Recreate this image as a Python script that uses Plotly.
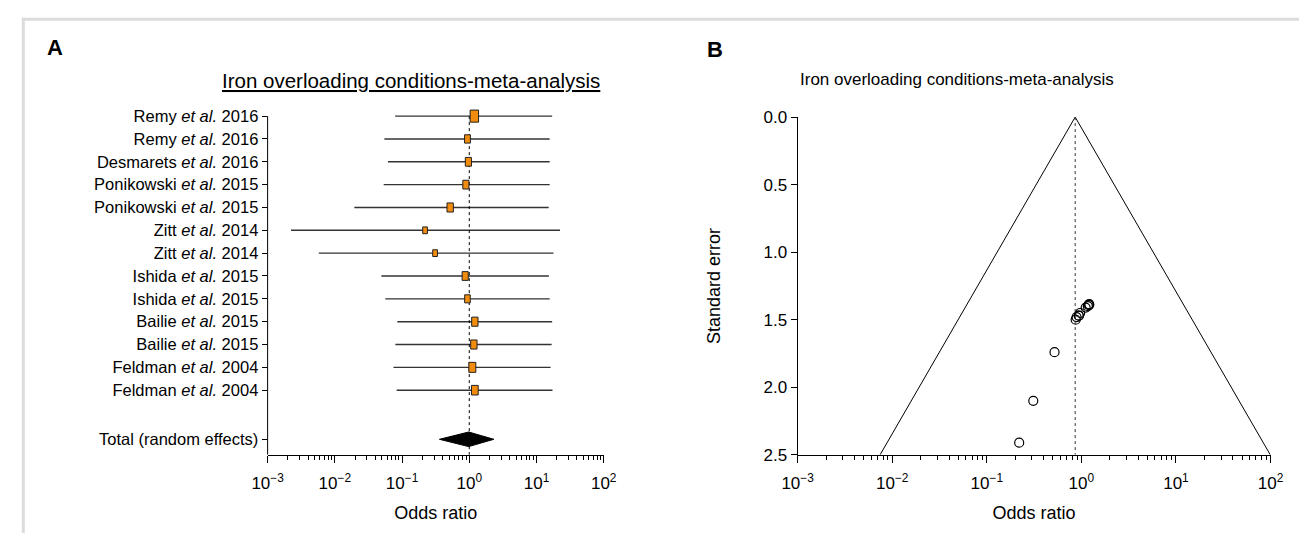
import math
import plotly.graph_objects as go

# ---------------- data ----------------
studies = [
    "Remy <i>et al.</i> 2016", "Remy <i>et al.</i> 2016", "Desmarets <i>et al.</i> 2016",
    "Ponikowski <i>et al.</i> 2015", "Ponikowski <i>et al.</i> 2015",
    "Zitt <i>et al.</i> 2014", "Zitt <i>et al.</i> 2014",
    "Ishida <i>et al.</i> 2015", "Ishida <i>et al.</i> 2015",
    "Bailie <i>et al.</i> 2015", "Bailie <i>et al.</i> 2015",
    "Feldman <i>et al.</i> 2004", "Feldman <i>et al.</i> 2004",
]
odds_ratio = [1.19, 0.94, 0.97, 0.89, 0.52, 0.22, 0.31, 0.87, 0.94, 1.21, 1.17, 1.11, 1.21]
ci_low = [0.079, 0.0546, 0.0617, 0.0533, 0.0195, 0.00223, 0.00578, 0.0493, 0.0564, 0.085, 0.0796, 0.0745, 0.083]
ci_high = [17.1, 15.7, 15.7, 15.7, 15.2, 22.4, 17.9, 15.3, 15.7, 17.1, 16.8, 16.2, 17.3]
weights = [9.5, 4.5, 5.0, 5.0, 5.4, 3.0, 3.0, 5.0, 4.2, 5.4, 5.4, 6.5, 6.0]
std_error = [1.39, 1.47, 1.45, 1.48, 1.74, 2.41, 2.10, 1.50, 1.47, 1.385, 1.40, 1.41, 1.39]

total_label = "Total (random effects)"
total_or, total_low, total_high = 0.98, 0.36, 2.32
null_or = 1.0
funnel_center = 0.86
funnel_z = 1.9
se_max = 2.5

x_tickvals = [1e-3, 1e-2, 1e-1, 1e0, 1e1, 1e2]
x_ticktext = ["10<sup>\u22123</sup>", "10<sup>\u22122</sup>", "10<sup>\u22121</sup>",
              "10<sup>0</sup>", "10<sup>1</sup>", "10<sup>2</sup>"]
se_ticks = [0.0, 0.5, 1.0, 1.5, 2.0, 2.5]
title_text = "Iron overloading conditions-meta-analysis"

# ---------------- layout constants ----------------
W, H = 1312, 543
FONT = "Liberation Sans, Arial, sans-serif"
ORANGE = "#F28C0F"
n = len(studies)
rows = list(range(1, n + 1))
total_row = n + 2.15
y_bottom = n + 2.83

XA_LEFT, XA_RIGHT = 257.3, 601.0          # left panel x-axis pixel extent
PX_PER_DECADE = (XA_RIGHT - XA_LEFT) / 5.0
PX_PER_ROW = (462 - 111) / (y_bottom - 1)


def px_x(p):
    return p / W


def px_y(p):
    return 1 - p / H


fig = go.Figure()

# ---- panel A: forest plot ----
ci_x, ci_y = [], []
for lo, hi, r in zip(ci_low, ci_high, rows):
    ci_x += [lo, hi, None]
    ci_y += [r, r, None]
fig.add_trace(go.Scatter(x=ci_x, y=ci_y, mode="lines", line=dict(color="#333333", width=1.4),
                         xaxis="x", yaxis="y", showlegend=False, hoverinfo="skip"))

fig.add_trace(go.Scatter(x=[null_or, null_or], y=[rows[0], y_bottom], mode="lines",
                         line=dict(color="black", width=1, dash="dot"),
                         xaxis="x", yaxis="y", showlegend=False, hoverinfo="skip"))

dh = 0.32
fig.add_trace(go.Scatter(x=[total_low, total_or, total_high, total_or, total_low],
                         y=[total_row, total_row - dh, total_row, total_row + dh, total_row],
                         mode="lines", fill="toself", fillcolor="black",
                         line=dict(color="black", width=1),
                         xaxis="x", yaxis="y", showlegend=False, hoverinfo="skip"))

# study boxes (size from weight), as filled polygons in data space
bx, by = [], []
for orv, wgt, r in zip(odds_ratio, weights, rows):
    w_px = 2.8 * math.sqrt(wgt)
    h_px = 1.45 * w_px
    f = 10 ** ((w_px / 2) / PX_PER_DECADE)
    hh = (h_px / 2) / PX_PER_ROW
    bx += [orv / f, orv * f, orv * f, orv / f, orv / f, None]
    by += [r - hh, r - hh, r + hh, r + hh, r - hh, None]
fig.add_trace(go.Scatter(x=bx, y=by, mode="lines", fill="toself", fillcolor=ORANGE,
                         line=dict(color="#222222", width=1), xaxis="x", yaxis="y",
                         showlegend=False, hoverinfo="skip"))

shapes = []
shapes.append(dict(type="line", xref="x domain", yref="y", x0=0, x1=0, y0=rows[0], y1=y_bottom,
                   line=dict(color="black", width=1)))

# ---- panel B: funnel plot ----
left_b = funnel_center * math.exp(-funnel_z * se_max)
right_b = funnel_center * math.exp(funnel_z * se_max)
fig.add_trace(go.Scatter(x=[left_b, funnel_center, right_b], y=[se_max, 0, se_max], mode="lines",
                         line=dict(color="black", width=1), xaxis="x2", yaxis="y2",
                         showlegend=False, hoverinfo="skip"))
fig.add_trace(go.Scatter(x=[funnel_center, funnel_center], y=[0, se_max], mode="lines",
                         line=dict(color="#333333", width=1, dash="dot"), xaxis="x2", yaxis="y2",
                         showlegend=False, hoverinfo="skip"))
fig.add_trace(go.Scatter(x=odds_ratio, y=std_error, mode="markers",
                         marker=dict(symbol="circle-open", size=9, color="black", line=dict(width=1.2)),
                         xaxis="x2", yaxis="y2", showlegend=False))

# figure frame
shapes.append(dict(type="line", xref="paper", yref="paper", x0=px_x(6), x1=1, y0=px_y(10.5), y1=px_y(10.5),
                   line=dict(color="#dcdcdc", width=3)))
shapes.append(dict(type="line", xref="paper", yref="paper", x0=px_x(7.5), x1=px_x(7.5), y0=0, y1=px_y(9),
                   line=dict(color="#dcdcdc", width=3)))

axis_common = dict(showgrid=False, zeroline=False, ticks="outside", tickcolor="black", tickwidth=1,
                   tickfont=dict(family=FONT, size=17, color="black"))
xlog = dict(type="log", range=[-3, 2], tickmode="array", tickvals=x_tickvals, ticktext=x_ticktext,
            ticklen=7, showline=True, linecolor="black", linewidth=1, ticklabelstandoff=6,
            minor=dict(ticks="outside", ticklen=4, dtick="D1", tickcolor="black", tickwidth=1, showgrid=False),
            title=dict(text="Odds ratio", font=dict(family=FONT, size=18, color="black"), standoff=14),
            **axis_common)

fig.update_layout(
    width=W, height=H, margin=dict(l=0, r=0, t=0, b=0),
    paper_bgcolor="white", plot_bgcolor="white",
    font=dict(family=FONT, color="black"),
    xaxis=dict(domain=[px_x(XA_LEFT), px_x(XA_RIGHT)], anchor="y", **xlog),
    yaxis=dict(domain=[px_y(462), px_y(111 - 0.5 * PX_PER_ROW)], anchor="x", range=[y_bottom, 0.5],
               tickmode="array", tickvals=rows + [total_row], ticktext=studies + [total_label],
               ticklen=5, showline=False, **{**axis_common, "tickfont": dict(family=FONT, size=16.5, color="black")}),
    xaxis2=dict(domain=[px_x(799.3), px_x(1282.9)], anchor="y2", **xlog),
    yaxis2=dict(domain=[px_y(462), px_y(112)], anchor="x2", range=[se_max, 0],
                tickmode="array", tickvals=se_ticks, tickformat=".1f", ticklen=6,
                showline=True, linecolor="black", linewidth=1,
                title=dict(text="Standard error", font=dict(family=FONT, size=18, color="black"), standoff=38),
                **axis_common),
    shapes=shapes,
    annotations=[
        dict(text="<b>A</b>", x=px_x(30), y=px_y(40), xref="paper", yref="paper", xanchor="left",
             yanchor="middle", showarrow=False, font=dict(family="Liberation Sans Narrow, " + FONT, size=22)),
        dict(text="<b>B</b>", x=px_x(705), y=px_y(42), xref="paper", yref="paper", xanchor="left",
             yanchor="middle", showarrow=False, font=dict(family="Liberation Sans Narrow, " + FONT, size=22)),
        dict(text="<u>" + title_text + "</u>", x=px_x(404), y=px_y(74), xref="paper", yref="paper",
             xanchor="center", yanchor="middle", showarrow=False, font=dict(family=FONT, size=20.5)),
        dict(text=title_text, x=px_x(962), y=px_y(73), xref="paper", yref="paper",
             xanchor="center", yanchor="middle", showarrow=False, font=dict(family=FONT, size=17)),
    ],
)

fig.write_html("out.html", config={"displayModeBar": False},
               post_script="document.body.style.margin='0px';document.body.style.overflow='hidden';")
